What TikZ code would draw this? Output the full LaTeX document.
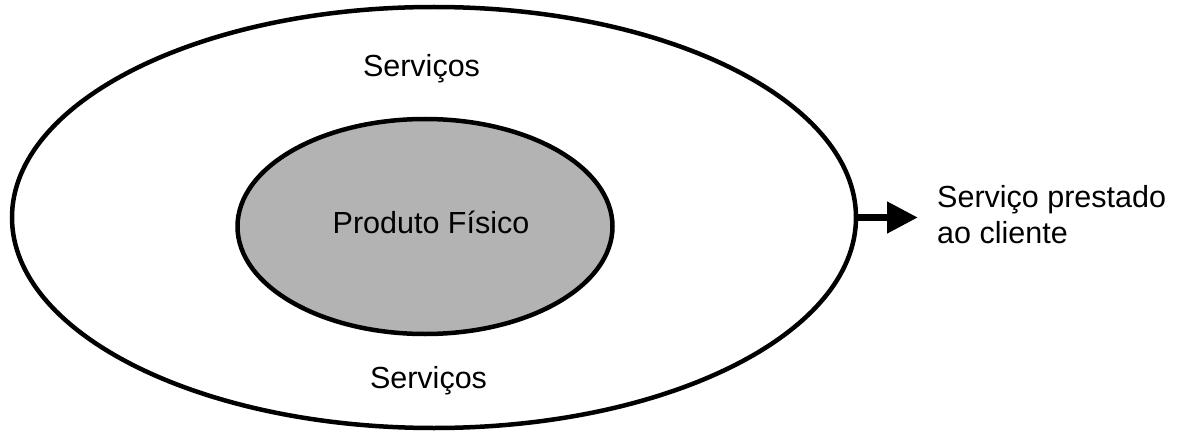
\documentclass[tikz,border=0pt]{standalone}
\usepackage{fontspec}
\setmainfont{Liberation Sans}
\usetikzlibrary{shapes.geometric,arrows.meta}
\definecolor{coregray}{RGB}{179,179,179}
\begin{document}
\begin{tikzpicture}[x=1pt,y=1pt,
  ring/.style={ellipse,draw=black,line width=4.5pt,inner sep=0pt},
  label/.style={font=\fontsize{30.5}{36}\selectfont,inner sep=0pt},
  outarrow/.style={line width=7.5pt,-{Triangle[length=31pt,width=30pt]}}]
  \useasboundingbox (0,0) rectangle (1181,432);
  % outer ring of services
  \node[ring,minimum width=844pt,minimum height=421pt] (outer) at (434,214.5) {};
  % physical product core
  \node[ring,fill=coregray,minimum width=375pt,minimum height=215pt] (core) at (425,205.5) {};
  \node[label,anchor=base] (prod) at (431,199) {Produto Físico};
  \node[label,anchor=base] (servtop) at (421.5,355) {Serviços};
  \node[label,anchor=base] (servbot) at (428.5,44) {Serviços};
  % delivered service
  \coordinate (tip) at (918,214.5);
  \draw[outarrow] (outer.east) -- (tip);
  \node[label,anchor=base west,align=left] (delivered) at (937,189) {Serviço prestado\\ao cliente};
\end{tikzpicture}
\end{document}
